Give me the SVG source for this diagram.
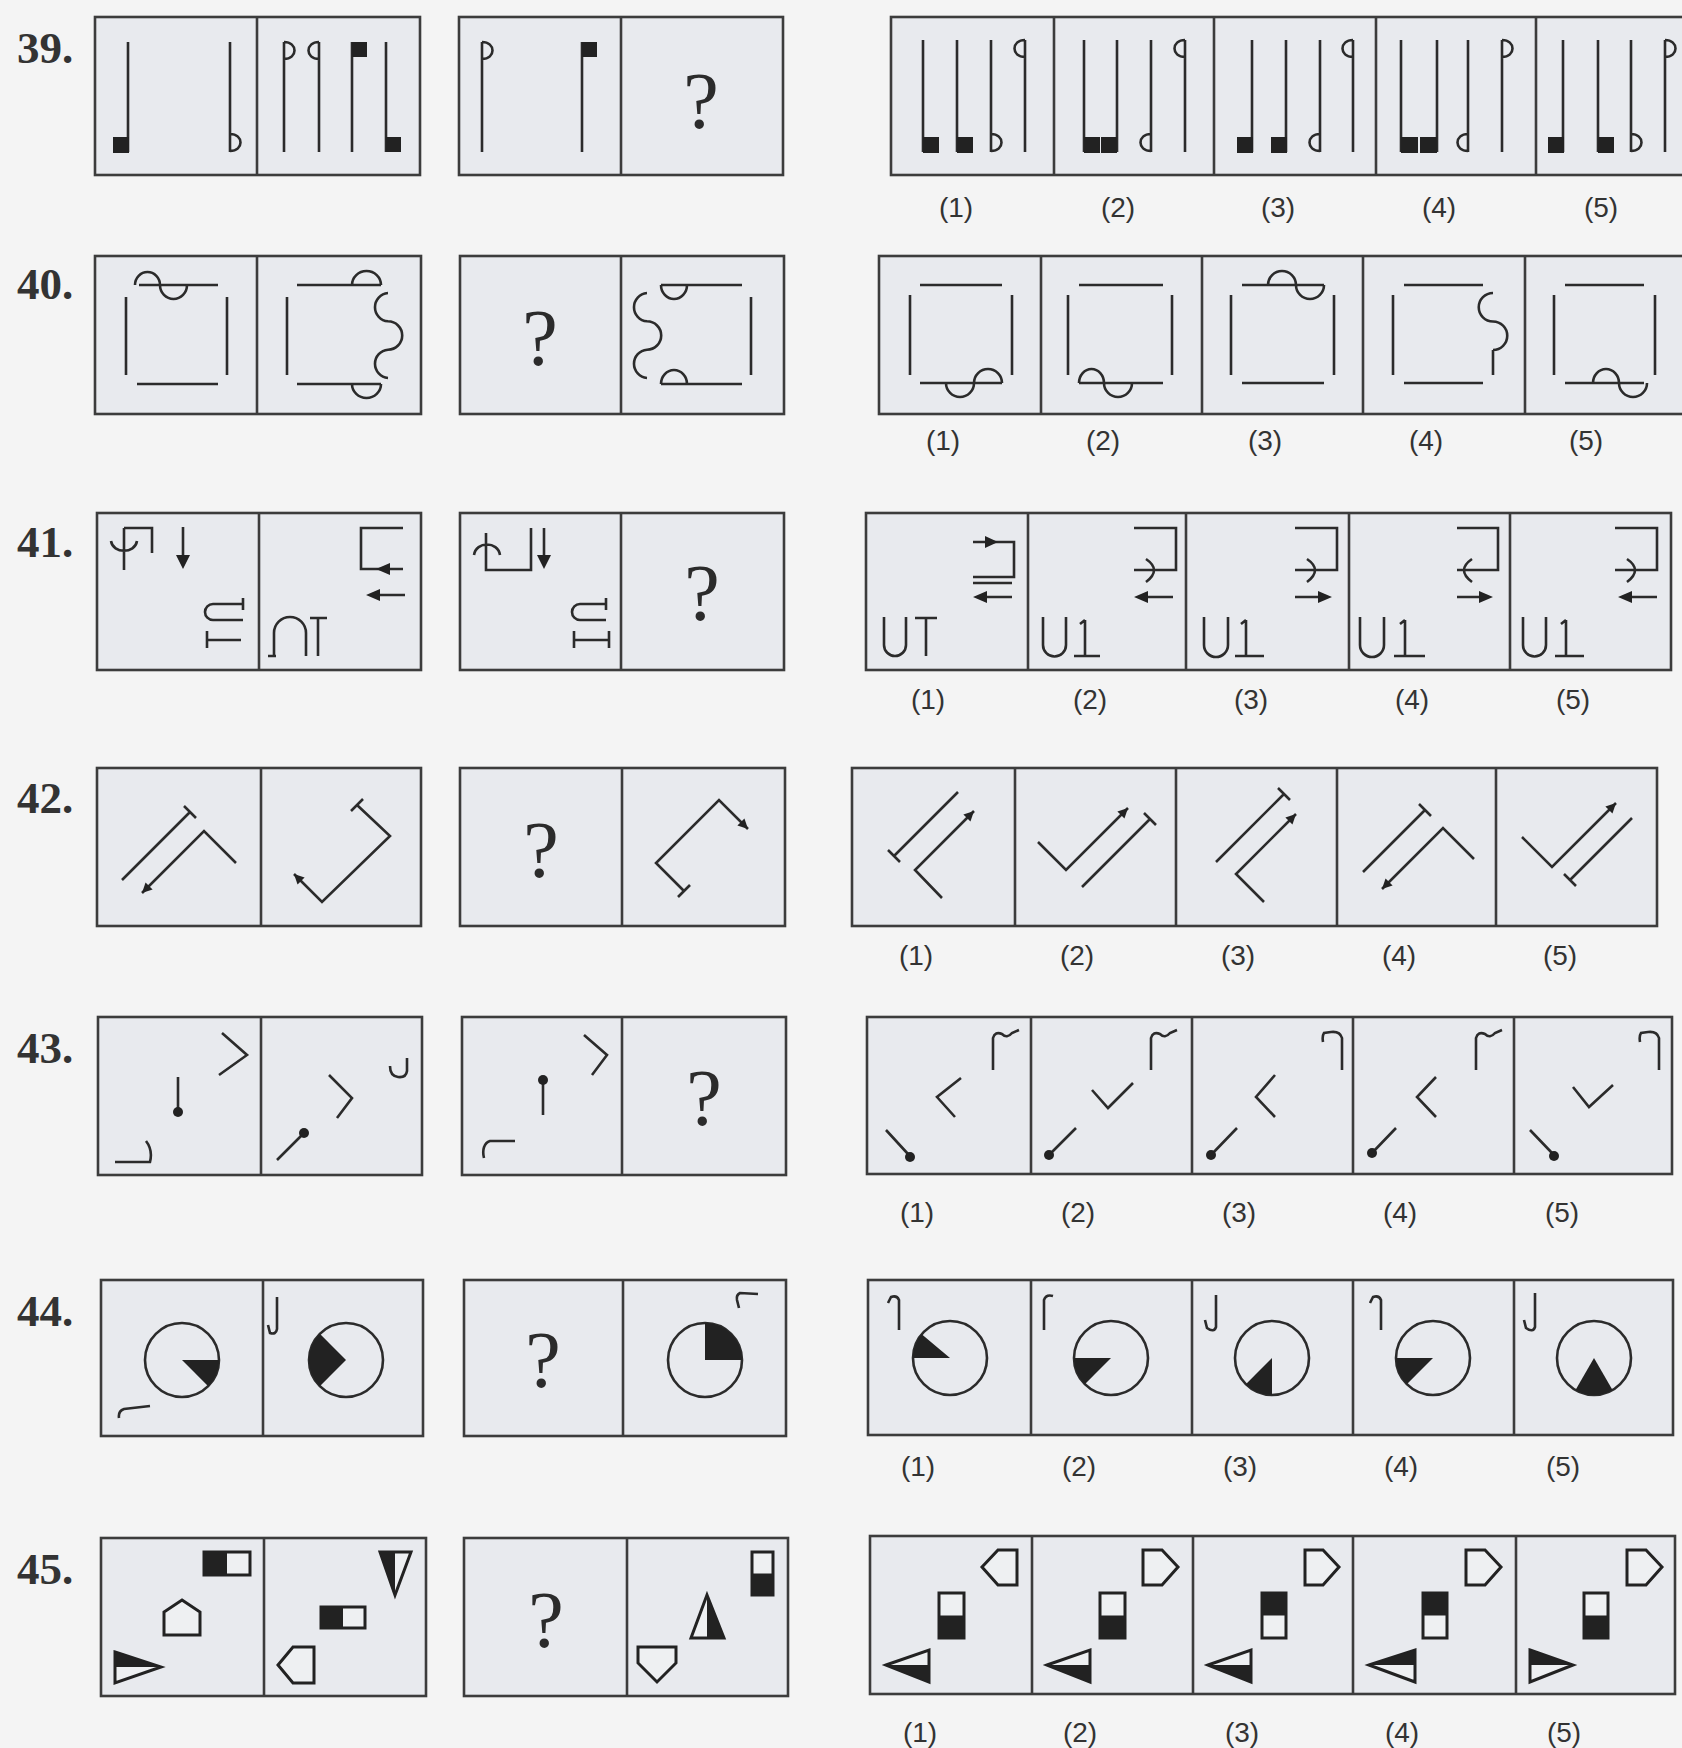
<svg xmlns="http://www.w3.org/2000/svg" width="1682" height="1748" viewBox="0 0 1682 1748">
<style>
.bx{fill:#e8eaee;stroke:#3c3c3c;stroke-width:2.6}
.dv{stroke:#3c3c3c;stroke-width:2.6}
.ln{fill:none;stroke:#2b2b2b;stroke-width:2.6}
.k{fill:#222}
.o{fill:#eef0f2;stroke:#222;stroke-width:3}
.q{font-family:"Liberation Serif",serif;font-size:80px;fill:#2b2b2b;text-anchor:middle}
.n{font-family:"Liberation Serif",serif;font-weight:bold;font-size:45px;fill:#333}
.lb{font-family:"Liberation Sans",Arial,sans-serif;font-size:28px;fill:#333;text-anchor:middle}
</style>
<defs>
<marker id="ah" viewBox="0 0 10 10" refX="10" refY="5" markerUnits="userSpaceOnUse" markerWidth="14" markerHeight="10" orient="auto"><path d="M0,0 L10,5 L0,10 z" fill="#222"/></marker>
</defs>
<rect width="1682" height="1748" fill="#f4f4f4"/>

<!-- ===== 39 ===== -->
<g id="q39">
<text class="n" x="17" y="63">39.</text>
<g id="q39-a"><rect class="bx" x="95" y="17" width="325" height="158"/><line class="dv" x1="257" y1="17" x2="257" y2="175"/>
<path class="ln" d="M128,42V152 M230,42V152 M230,134c14,0 14,17 0,17 M284,42V152 M284,42c14,0 14,17 0,17 M319,42V152 M319,42c-14,0 -14,17 0,17 M352,42V152 M386,42V152"/>
<rect class="k" x="113" y="137" width="16" height="16"/><rect class="k" x="352" y="42" width="15" height="15"/><rect class="k" x="386" y="137" width="15" height="15"/>
</g>
<g id="q39-b"><rect class="bx" x="459" y="17" width="324" height="158"/><line class="dv" x1="621" y1="17" x2="621" y2="175"/>
<path class="ln" d="M482,42V152 M482,42c14,0 14,17 0,17 M582,42V152"/>
<rect class="k" x="582" y="42" width="15" height="15"/>
<text class="q" x="701" y="128">?</text>
</g>
<g id="a39"><rect class="bx" x="891" y="17" width="820" height="158"/>
<path class="dv" d="M1054,17V175 M1214,17V175 M1376,17V175 M1536,17V175"/>
<path class="ln" d="M923,40V152 M957,40V152 M991,40V152 M991,134c14,0 14,17 0,17 M1025,40V152 M1025,40c-14,0 -14,17 0,17
M1084,40V152 M1117,40V152 M1151,40V152 M1151,134c-14,0 -14,17 0,17 M1185,40V152 M1185,40c-14,0 -14,17 0,17
M1252,40V152 M1286,40V152 M1320,40V152 M1320,134c-14,0 -14,17 0,17 M1353,40V152 M1353,40c-14,0 -14,17 0,17
M1401,40V152 M1437,40V152 M1468,40V152 M1468,134c-14,0 -14,17 0,17 M1502,40V152 M1502,40c14,0 14,17 0,17
M1563,40V152 M1598,40V152 M1631,40V152 M1631,134c14,0 14,17 0,17 M1665,40V152 M1665,40c14,0 14,17 0,17"/>
<rect class="k" x="923" y="137" width="16" height="16"/><rect class="k" x="957" y="137" width="16" height="16"/>
<rect class="k" x="1084" y="137" width="16" height="16"/><rect class="k" x="1101" y="137" width="16" height="16"/>
<rect class="k" x="1237" y="137" width="16" height="16"/><rect class="k" x="1271" y="137" width="16" height="16"/>
<rect class="k" x="1401" y="137" width="17" height="16"/><rect class="k" x="1420" y="137" width="17" height="16"/>
<rect class="k" x="1548" y="137" width="16" height="16"/><rect class="k" x="1598" y="137" width="16" height="16"/>
<text class="lb" x="956" y="217">(1)</text><text class="lb" x="1118" y="217">(2)</text><text class="lb" x="1278" y="217">(3)</text><text class="lb" x="1439" y="217">(4)</text><text class="lb" x="1601" y="217">(5)</text>
</g>
</g>

<!-- ===== 40 ===== -->
<g id="q40">
<text class="n" x="17" y="299">40.</text>
<g id="q40-a"><rect class="bx" x="95" y="256" width="326" height="158"/><line class="dv" x1="257" y1="256" x2="257" y2="414"/>
<path class="ln" d="M139,285H218 M137,384H218 M126,297V375 M227,297V375 M135,285A12.5,13 0 0 1 160,285A13.5,14 0 0 0 187,285
M297,285H381 M352,285A14.5,14 0 0 1 381,285 M297,384H381 M352,384A14.5,14 0 0 0 381,384 M287,297V375
M388,293A14.2,14.2 0 0 0 388,321.3A14.2,14.2 0 0 1 388,349.7A14.2,14.2 0 0 0 388,378"/>
</g>
<g id="q40-b"><rect class="bx" x="460" y="256" width="324" height="158"/><line class="dv" x1="621" y1="256" x2="621" y2="414"/>
<text class="q" x="540" y="365">?</text>
<path class="ln" d="M661,285H742 M661,285A13,14 0 0 0 687,285 M661,384H742 M661,384A13,14 0 0 1 687,384 M751,297V375
M647,293A14.2,14.2 0 0 0 647,321.3A14.2,14.2 0 0 1 647,349.7A14.2,14.2 0 0 0 647,378"/>
</g>
<g id="a40"><rect class="bx" x="879" y="256" width="830" height="158"/>
<path class="dv" d="M1041,256V414 M1202,256V414 M1363,256V414 M1525,256V414"/>
<path class="ln" d="M920,285H1002 M920,383H1002 M910,295V375 M1012,295V375 M946,383A14,14 0 0 0 974,383A14,14 0 0 1 1002,383
M1079,285H1163 M1079,383H1163 M1068,295V375 M1172,295V375 M1079,383A12.5,14 0 0 1 1104,383A14,14 0 0 0 1132,383
M1242,285H1324 M1268,285A14,14 0 0 1 1296,285A14,14 0 0 0 1324,285 M1242,383H1324 M1231,295V375 M1334,295V375
M1404,285H1483 M1404,383H1483 M1393,295V375 M1493,350V375 M1493,293A14.25,14.25 0 0 0 1493,321.5A14.25,14.25 0 0 1 1493,350
M1565,285H1644 M1565,383H1644 M1554,295V375 M1655,295V375 M1593,383A13,14 0 0 1 1619,383A14,14 0 0 0 1647,383"/>
<text class="lb" x="943" y="450">(1)</text><text class="lb" x="1103" y="450">(2)</text><text class="lb" x="1265" y="450">(3)</text><text class="lb" x="1426" y="450">(4)</text><text class="lb" x="1586" y="450">(5)</text>
</g>
</g>

<!-- ===== 41 ===== -->
<g id="q41">
<text class="n" x="17" y="557">41.</text>
<g id="q41-a"><rect class="bx" x="97" y="513" width="324" height="157"/><line class="dv" x1="259" y1="513" x2="259" y2="670"/>
<path class="ln" d="M124,528V570 M124,528H152V553 M111,541C113,554 135,554 137,541 M183,527V556
M243,598V610 M243,604H213A8,8 0 0 0 213,620H243 M207,631V648 M207,640H241
M403,528H361V569H403 M405,595H374
M274,656V633A16,16 0 0 1 306,633V656 M268,656H276 M310,618H327 M318,618V656"/>
<path class="k" d="M176,555H190L183,569Z M376,569L390,563V575Z M366,595L380,589V601Z"/>
</g>
<g id="q41-b"><rect class="bx" x="460" y="513" width="324" height="157"/><line class="dv" x1="621" y1="513" x2="621" y2="670"/>
<path class="ln" d="M486,533V570H531V528 M474,555C476,541 498,541 500,555 M544,528V556
M606,598V610 M606,604H580A8,8 0 0 0 580,620H606 M574,631V648 M574,640H609 M609,631V648"/>
<path class="k" d="M537,555H551L544,569Z"/>
<text class="q" x="702" y="620">?</text>
</g>
<g id="a41"><rect class="bx" x="866" y="513" width="805" height="157"/>
<path class="dv" d="M1028,513V670 M1186,513V670 M1349,513V670 M1510,513V670"/>
<path class="ln" d="M973,542H1014V577H973 M973,583H1012 M1012,597H979 M884,617V645A11,11 0 0 0 906,645V617 M915,618H937 M926,618V656
M1134,528H1176V570H1134 M1146,559Q1162,570 1146,582 M1173,597H1140 M1043,617V645A11.5,11.5 0 0 0 1066,645V617 M1085,620V656 M1074,656H1100 M1085,620L1080,624
M1295,528H1337V570H1295 M1307,559Q1323,570 1307,582 M1295,597H1326 M1204,617V645A12,12 0 0 0 1228,645V617 M1246,620V656 M1235,656H1264 M1246,620L1241,624
M1457,528H1498V570H1457 M1472,559Q1456,570 1472,582 M1457,597H1487 M1360,617V645A12,12 0 0 0 1384,645V617 M1405,620V656 M1394,656H1425 M1405,620L1400,624
M1615,528H1657V570H1615 M1627,559Q1643,570 1627,582 M1657,597H1624 M1523,617V645A11.5,11.5 0 0 0 1546,645V617 M1566,620V656 M1555,656H1584 M1566,620L1561,624"/>
<path class="k" d="M998,542L985,536V548Z M973,597L987,591V603Z M1134,597L1148,591V603Z M1332,597L1318,591V603Z M1493,597L1479,591V603Z M1618,597L1632,591V603Z"/>
<text class="lb" x="928" y="709">(1)</text><text class="lb" x="1090" y="709">(2)</text><text class="lb" x="1251" y="709">(3)</text><text class="lb" x="1412" y="709">(4)</text><text class="lb" x="1573" y="709">(5)</text>
</g>
</g>

<!-- ===== 42 ===== -->
<g id="q42">
<text class="n" x="17" y="813">42.</text>
<g id="q42-a"><rect class="bx" x="97" y="768" width="324" height="158"/><line class="dv" x1="261" y1="768" x2="261" y2="926"/>
<path class="ln" d="M122,880L190,812 M184,806L196,818 M351,811L363,799"/>
<path class="ln" marker-end="url(#ah)" d="M236,863L204,831L142,893"/>
<path class="ln" marker-end="url(#ah)" d="M357,805L390,836L322,902L294,874"/>
</g>
<g id="q42-b"><rect class="bx" x="460" y="768" width="325" height="158"/><line class="dv" x1="622" y1="768" x2="622" y2="926"/>
<text class="q" x="541" y="877">?</text>
<path class="ln" d="M678,897L690,885"/>
<path class="ln" marker-end="url(#ah)" d="M684,891L656,863L719,800L748,829"/>
</g>
<g id="a42"><rect class="bx" x="852" y="768" width="805" height="158"/>
<path class="dv" d="M1015,768V926 M1176,768V926 M1337,768V926 M1496,768V926"/>
<path class="ln" d="M894,856L958,792 M888,850L900,862 M1082,887L1150,819 M1144,813L1156,825 M1216,862L1284,794 M1278,788L1290,800 M1363,872L1425,810 M1419,804L1431,816 M1570,880L1632,818 M1564,874L1576,886"/>
<path class="ln" marker-end="url(#ah)" d="M942,898L915,870L974,811"/>
<path class="ln" marker-end="url(#ah)" d="M1038,842L1066,870L1128,808"/>
<path class="ln" marker-end="url(#ah)" d="M1264,902L1236,874L1296,814"/>
<path class="ln" marker-end="url(#ah)" d="M1474,859L1443,828L1382,889"/>
<path class="ln" marker-end="url(#ah)" d="M1522,837L1552,867L1616,803"/>
<text class="lb" x="916" y="965">(1)</text><text class="lb" x="1077" y="965">(2)</text><text class="lb" x="1238" y="965">(3)</text><text class="lb" x="1399" y="965">(4)</text><text class="lb" x="1560" y="965">(5)</text>
</g>
</g>

<!-- ===== 43 ===== -->
<g id="q43">
<text class="n" x="17" y="1063">43.</text>
<g id="q43-a"><rect class="bx" x="98" y="1017" width="324" height="158"/><line class="dv" x1="261" y1="1017" x2="261" y2="1175"/>
<path class="ln" d="M222,1033L247,1055L219,1075 M178,1077V1110 M115,1162H150Q153,1150 146,1141
M407,1058V1071Q406,1078 398,1077Q390,1076 390,1066 M329,1075L352,1098L337,1118 M304,1133L277,1160"/>
<circle class="k" cx="178" cy="1112" r="5"/><circle class="k" cx="304" cy="1133" r="5"/>
</g>
<g id="q43-b"><rect class="bx" x="462" y="1017" width="324" height="158"/><line class="dv" x1="622" y1="1017" x2="622" y2="1175"/>
<path class="ln" d="M584,1035L607,1055L592,1075 M543,1080V1115 M515,1141H490C484,1143 482,1150 484,1158"/>
<circle class="k" cx="543" cy="1080" r="5"/>
<text class="q" x="704" y="1125">?</text>
</g>
<g id="a43"><rect class="bx" x="867" y="1017" width="805" height="157"/>
<path class="dv" d="M1031,1017V1174 M1192,1017V1174 M1353,1017V1174 M1514,1017V1174"/>
<path class="ln" d="M993,1070V1038Q995,1031 1002,1034Q1007,1039 1012,1033L1019,1030 M961,1078L937,1097L955,1117 M886,1130L908,1154
M1151,1070V1038Q1153,1031 1160,1034Q1165,1039 1170,1033L1177,1030 M1092,1090L1108,1108L1133,1083 M1049,1155L1076,1128
M1342,1070V1038Q1340,1031 1331,1032L1324,1033Q1322,1036 1323,1042 M1275,1075L1256,1097L1275,1117 M1211,1155L1237,1128
M1476,1070V1038Q1478,1031 1485,1034Q1490,1039 1495,1033L1502,1030 M1436,1077L1417,1097L1436,1117 M1372,1153L1396,1128
M1659,1070V1038Q1657,1031 1648,1032L1641,1033Q1639,1036 1640,1042 M1573,1087L1589,1107L1613,1085 M1530,1130L1552,1153"/>
<circle class="k" cx="910" cy="1157" r="5"/><circle class="k" cx="1049" cy="1155" r="5"/><circle class="k" cx="1211" cy="1155" r="5"/><circle class="k" cx="1372" cy="1153" r="5"/><circle class="k" cx="1554" cy="1156" r="5"/>
<text class="lb" x="917" y="1222">(1)</text><text class="lb" x="1078" y="1222">(2)</text><text class="lb" x="1239" y="1222">(3)</text><text class="lb" x="1400" y="1222">(4)</text><text class="lb" x="1562" y="1222">(5)</text>
</g>
</g>

<!-- ===== 44 ===== -->
<g id="q44">
<text class="n" x="17" y="1326">44.</text>
<g id="q44-a"><rect class="bx" x="101" y="1280" width="322" height="156"/><line class="dv" x1="263" y1="1280" x2="263" y2="1436"/>
<circle class="ln" cx="182" cy="1360" r="37"/><path class="k" d="M182,1360L219,1360A37,37 0 0 1 208.2,1386.2Z"/>
<circle class="ln" cx="346" cy="1360" r="37"/><path class="k" d="M346,1360L319.8,1386.2A37,37 0 0 1 319.8,1333.8Z"/>
<path class="ln" d="M150,1406L124,1409Q118,1411 119,1418 M277,1297V1329Q276,1335 270,1333L268,1325"/>
</g>
<g id="q44-b"><rect class="bx" x="464" y="1280" width="322" height="156"/><line class="dv" x1="623" y1="1280" x2="623" y2="1436"/>
<text class="q" x="543" y="1387">?</text>
<circle class="ln" cx="705" cy="1360" r="37"/><path class="k" d="M705,1360L705,1323A37,37 0 0 1 742,1360Z"/>
<path class="ln" d="M758,1294L740,1293Q736,1295 737,1300L739,1308"/>
</g>
<g id="a44"><rect class="bx" x="868" y="1280" width="805" height="155"/>
<path class="dv" d="M1031,1280V1435 M1192,1280V1435 M1353,1280V1435 M1514,1280V1435"/>
<circle class="ln" cx="950" cy="1358" r="37"/><path class="k" d="M950,1358L913,1358A37,37 0 0 1 921.7,1334.2Z"/>
<circle class="ln" cx="1111" cy="1358" r="37"/><path class="k" d="M1111,1358L1084.8,1384.2A37,37 0 0 1 1074,1358Z"/>
<circle class="ln" cx="1272" cy="1358" r="37"/><path class="k" d="M1272,1358L1272,1395A37,37 0 0 1 1245.8,1384.2Z"/>
<circle class="ln" cx="1433" cy="1358" r="37"/><path class="k" d="M1433,1358L1406.8,1384.2A37,37 0 0 1 1396,1358Z"/>
<circle class="ln" cx="1594" cy="1358" r="37"/><path class="k" d="M1594,1358L1612.5,1390A37,37 0 0 1 1575.5,1390Z"/>
<path class="ln" d="M899,1330V1300Q897,1295 891,1297L888,1303 M1044,1330V1300Q1046,1294 1053,1296 M1216,1295V1327Q1214,1333 1207,1328L1205,1320 M1381,1330V1300Q1379,1295 1373,1297L1370,1303 M1535,1293V1327Q1533,1333 1526,1328L1524,1320"/>
<text class="lb" x="918" y="1476">(1)</text><text class="lb" x="1079" y="1476">(2)</text><text class="lb" x="1240" y="1476">(3)</text><text class="lb" x="1401" y="1476">(4)</text><text class="lb" x="1563" y="1476">(5)</text>
</g>
</g>

<!-- ===== 45 ===== -->
<g id="q45">
<text class="n" x="17" y="1584">45.</text>
<g id="q45-a"><rect class="bx" x="101" y="1538" width="325" height="158"/><line class="dv" x1="264" y1="1538" x2="264" y2="1696"/>
<rect class="o" x="204" y="1552" width="46" height="23"/><rect class="k" x="204" y="1552" width="23" height="23"/>
<polygon class="o" points="182,1600 200,1612 200,1635 164,1635 164,1612"/>
<polygon class="o" points="115,1652 161,1667 115,1683"/><polygon class="k" points="115,1652 161,1667 115,1667"/>
<polygon class="o" points="380,1552 411,1552 395,1595"/><polygon class="k" points="380,1552 395,1552 395,1595"/>
<rect class="o" x="321" y="1607" width="44" height="21"/><rect class="k" x="321" y="1607" width="22" height="21"/>
<polygon class="o" points="278,1665 293,1647 314,1647 314,1683 293,1683"/>
</g>
<g id="q45-b"><rect class="bx" x="464" y="1538" width="324" height="158"/><line class="dv" x1="627" y1="1538" x2="627" y2="1696"/>
<text class="q" x="546" y="1647">?</text>
<rect class="o" x="752" y="1552" width="21" height="43"/><rect class="k" x="752" y="1573.5" width="21" height="21.5"/>
<polygon class="o" points="707,1595 724,1638 691,1638"/><polygon class="k" points="707,1595 724,1638 707,1638"/>
<polygon class="o" points="638,1647 676,1647 676,1663 657,1682 638,1663"/>
</g>
<g id="a45"><rect class="bx" x="870" y="1536" width="805" height="158"/>
<path class="dv" d="M1032,1536V1694 M1193,1536V1694 M1353,1536V1694 M1516,1536V1694"/>
<polygon class="o" points="982,1567 998,1550 1017,1550 1017,1585 998,1585"/>
<rect class="o" x="939" y="1593" width="25" height="45"/><rect class="k" x="939" y="1615.5" width="25" height="22.5"/>
<polygon class="o" points="886,1665 929,1650 929,1682"/><polygon class="k" points="886,1665 929,1665 929,1682"/>
<polygon class="o" points="1143,1550 1162,1550 1178,1567 1162,1585 1143,1585"/>
<rect class="o" x="1100" y="1593" width="25" height="45"/><rect class="k" x="1100" y="1615.5" width="25" height="22.5"/>
<polygon class="o" points="1047,1665 1090,1650 1090,1682"/><polygon class="k" points="1047,1665 1090,1665 1090,1682"/>
<polygon class="o" points="1305,1550 1323,1550 1339,1567 1323,1585 1305,1585"/>
<rect class="o" x="1262" y="1593" width="24" height="45"/><rect class="k" x="1262" y="1593" width="24" height="22.5"/>
<polygon class="o" points="1208,1665 1251,1650 1251,1682"/><polygon class="k" points="1208,1665 1251,1665 1251,1682"/>
<polygon class="o" points="1466,1550 1485,1550 1501,1567 1485,1585 1466,1585"/>
<rect class="o" x="1423" y="1593" width="24" height="45"/><rect class="k" x="1423" y="1593" width="24" height="22.5"/>
<polygon class="o" points="1369,1665 1415,1650 1415,1682"/><polygon class="k" points="1369,1665 1415,1650 1415,1665"/>
<polygon class="o" points="1627,1550 1646,1550 1662,1567 1646,1585 1627,1585"/>
<rect class="o" x="1584" y="1593" width="24" height="45"/><rect class="k" x="1584" y="1615.5" width="24" height="22.5"/>
<polygon class="o" points="1530,1650 1573,1665 1530,1682"/><polygon class="k" points="1530,1650 1573,1665 1530,1665"/>
<text class="lb" x="920" y="1742">(1)</text><text class="lb" x="1080" y="1742">(2)</text><text class="lb" x="1242" y="1742">(3)</text><text class="lb" x="1402" y="1742">(4)</text><text class="lb" x="1564" y="1742">(5)</text>
</g>
</g>
</svg>
